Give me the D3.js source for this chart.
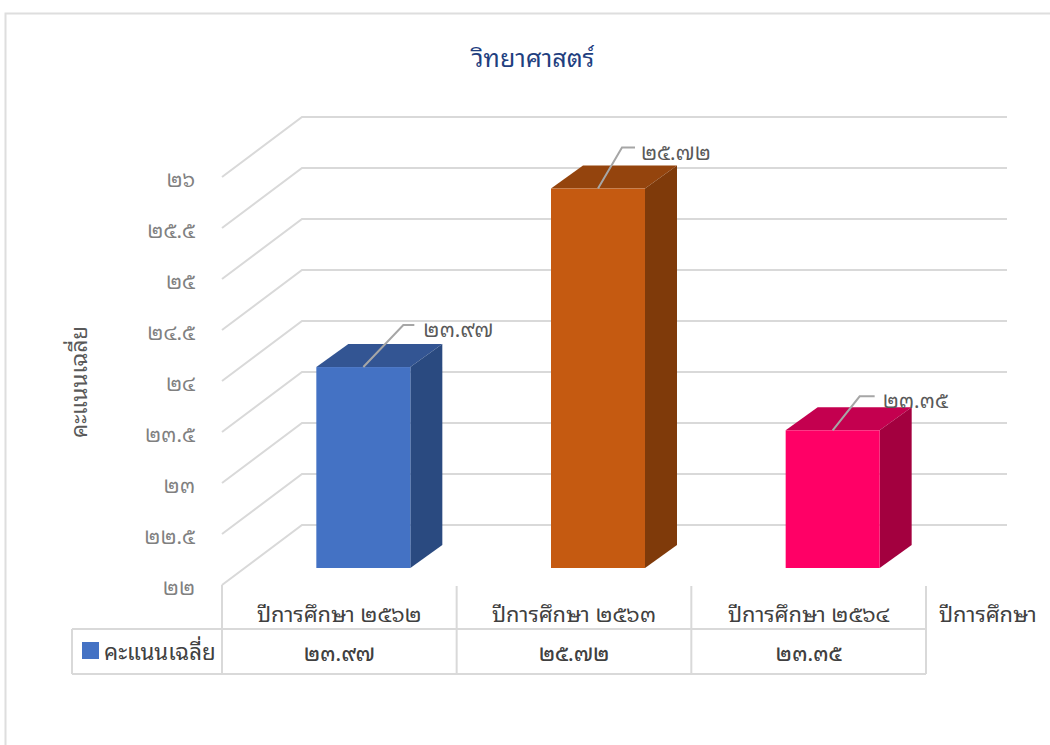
<!DOCTYPE html>
<html><head><meta charset="utf-8">
<script src="https://cdn.jsdelivr.net/npm/d3@7/dist/d3.min.js"></script>
<style>html,body{margin:0;padding:0;background:#fff}svg{display:block}
text{font-family:"Noto Sans Thai Looped","Noto Serif Thai","Noto Sans Thai","Noto Sans","DejaVu Sans",sans-serif}</style>
</head><body><svg id="c" width="1050" height="745"></svg>
<script>
const chartTitle = "วิทยาศาสตร์";
const yTitle = "คะแนนเฉลี่ย";
const xTitle = "ปีการศึกษา";
const seriesName = "คะแนนเฉลี่ย";
const categories = ["ปีการศึกษา ๒๕๖๒","ปีการศึกษา ๒๕๖๓","ปีการศึกษา ๒๕๖๔"];
const values = [23.97,25.72,23.35];
const yTicks = [22,22.5,23,23.5,24,24.5,25,25.5,26];
const frontColors = ["#4472c4","#c55a11","#ff0066"];
const topColors = ["#335593","#94440d","#c4004f"];
const sideColors = ["#2a4a80","#7f3a0a","#a3003f"];

const thai = v => String(v).replace(/\d/g,d=>"๐๑๒๓๔๕๖๗๘๙"[+d]);
const svg = d3.select("#c");
const y = d3.scaleLinear().domain([22,26]).range([568,160]);
const x = d3.scaleBand().domain(categories).range([222,926]);
const grey="#d9d9d9";
const line=(x1,y1,x2,y2,c=grey,w=2)=>svg.append("line").attr("x1",x1).attr("y1",y1).attr("x2",x2).attr("y2",y2).attr("stroke",c).attr("stroke-width",w);
const text=(s,px,py,size,fill,anchor="start")=>svg.append("text").text(s).attr("x",px).attr("y",py).attr("font-size",size).attr("fill",fill).attr("text-anchor",anchor);

// chart frame
svg.append("path").attr("d","M5.5,745V13.5H1050").attr("fill","none").attr("stroke","#dedede").attr("stroke-width",2);

text(chartTitle,533,67,25,"#1f3f7f","middle");

// gridlines with 3D wall
yTicks.forEach(t=>{
  const p=y(t);
  svg.append("path").attr("d",`M222,${p+17}L302,${p-43}H1007`).attr("fill","none").attr("stroke",grey).attr("stroke-width",2);
  text(thai(t),195,p+27,20.5,"#808080","end");
});

// bars
const barW=94, dx=32, dy=23;
const cx=i=>x(categories[i])+x.bandwidth()/2+24;
values.forEach((v,i)=>{
  const l=cx(i)-barW/2, r=l+barW, t=y(v), b=y(22);
  svg.append("path").attr("d",`M${l},${t}L${l+dx},${t-dy}H${r+dx}L${r},${t}Z`).attr("fill",topColors[i]);
  svg.append("path").attr("d",`M${r},${t}L${r+dx},${t-dy}V${b-dy}L${r},${b}Z`).attr("fill",sideColors[i]);
  svg.append("rect").attr("x",l).attr("y",t).attr("width",barW).attr("height",b-t).attr("fill",frontColors[i]);
});

// leader lines and data labels
const leaderDx=[40,24,27], leaderDy=[42,41,34], leaderH=[11,13,15], labelGap=[9,6,8];
values.forEach((v,i)=>{
  const a=cx(i), t=y(v);
  const bx=a+leaderDx[i], by=t-leaderDy[i], ex=bx+leaderH[i];
  svg.append("path").attr("d",`M${a},${t}L${bx},${by}H${ex}`).attr("fill","none").attr("stroke","#a6a6a6").attr("stroke-width",2);
  text(thai(v.toFixed(2)),ex+labelGap[i],by+12,20.5,"#595959");
});

// axis titles
svg.append("text").text(yTitle).attr("transform","translate(87,382) rotate(-90)").attr("font-size",22.4).attr("fill","#595959").attr("text-anchor","middle");
text(xTitle,939,622,21.8,"#404040");

// data table
const tx=[...categories.map(c=>x(c)),926];
tx.forEach((t,i)=>line(t,i===0?585:586,t,674));
line(72,629,926,629); line(72,674,926,674); line(72,629,72,674);
categories.forEach((c,i)=>{
  const m=x(c)+x.bandwidth()/2;
  text(c,m,622,21.8,"#404040","middle");
  text(thai(values[i].toFixed(2)),m,661,20.5,"#404040","middle").attr("font-weight",500);
});
svg.append("rect").attr("x",82).attr("y",642).attr("width",17).attr("height",17).attr("fill",frontColors[0]);
text(seriesName,104,660,22.3,"#404040");
</script></body></html>
